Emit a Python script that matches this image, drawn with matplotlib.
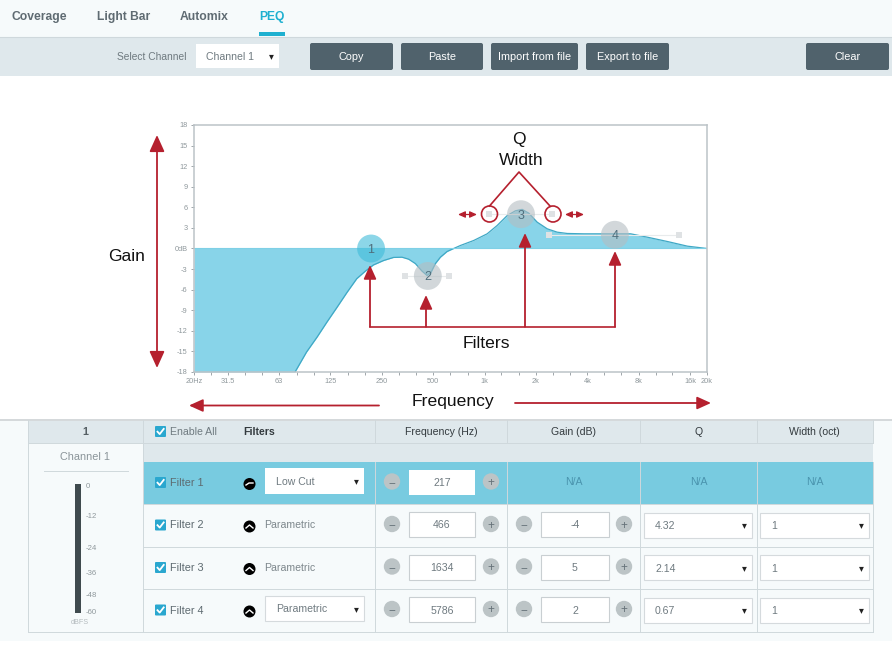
import matplotlib
matplotlib.use('Agg')
from matplotlib import pyplot as plt
from matplotlib.patches import Rectangle, FancyBboxPatch, Circle

plt.rcParams['font.family'] = ['Liberation Sans', 'DejaVu Sans']

# response curve
curve_freq = [20, 78, 91, 105, 120, 137, 157, 179, 201, 224, 257, 294, 329, 360, 394, 431,
              461, 487, 516, 552, 604, 660, 723, 865, 1036, 1185, 1357, 1517, 1660, 1815,
              2032, 2326, 2661, 3047, 3811, 5712, 7154, 8960, 11730, 15370, 20000]
curve_gain = [-18, -18, -15.1, -12.9, -10.7, -8.6, -6.4, -4.4, -3.3, -2.4, -1.75, -1.3, -1.27,
              -1.56, -2.2, -3.3, -3.94, -3.45, -2.2, -1.27, -0.44, 0, 0.44, 1.17, 2.14, 3.35,
              4.8, 5.5, 5.7, 5.15, 3.84, 2.87, 2.38, 2.19, 2.14, 2.14, 2.14, 1.65, 1.02, 0.34, 0]

node_names = ['1', '2', '3', '4']
node_freq = [217, 466, 1634, 5786]
node_gain = [0, -4, 5, 2]
handle_freq = [[344, 623], [1068, 2466], [2368, 13660]]
handle_gain = [-4, 5, 2]

y_ticks = [-18, -15, -12, -9, -6, -3, 0, 3, 6, 9, 12, 15, 18]
y_labels = ['-18', '-15', '-12', '-9', '-6', '-3', '0dB', '3', '6', '9', '12', '15', '18']
x_ticks = [20, 31.5, 63, 125, 250, 500, 1000, 2000, 4000, 8000, 16000, 20000]
x_labels = ['20Hz', '31.5', '63', '125', '250', '500', '1k', '2k', '4k', '8k', '16k', '20k']
x_minor = [25, 40, 50, 80, 100, 160, 200, 315, 400, 630, 800, 1250, 1600, 2500, 3150,
           5000, 6300, 10000, 12500]

tabs = ['Coverage', 'Light Bar', 'Automix', 'PEQ']
buttons = ['Copy', 'Paste', 'Import from file', 'Export to file', 'Clear']
columns = ['Frequency (Hz)', 'Gain (dB)', 'Q', 'Width (oct)']
filter_names = ['Filter 1', 'Filter 2', 'Filter 3', 'Filter 4']
filter_types = ['Low Cut', 'Parametric', 'Parametric', 'Parametric']
freq_values = ['217', '466', '1634', '5786']
gain_values = ['N/A', '-4', '5', '2']
q_values = ['N/A', '4.32', '2.14', '0.67']
width_values = ['N/A', '1', '1', '1']
meter_labels = ['0', '-12', '-24', '-36', '-48', '-60']

W, H = 892, 649
fig = plt.figure(figsize=(W / 100, H / 100), dpi=100, facecolor='white')

BAR = '#dfe8ec'
PAGE = '#f6fafb'
LINE = '#cfd8dc'
TXT = '#6f7a80'
DARK = '#50626c'
BLUE = '#78cbe0'
RED = '#b5202e'


def pixel_axes(z):
    a = fig.add_axes([0, 0, 1, 1], zorder=z)
    a.set_xlim(0, W)
    a.set_ylim(H, 0)
    a.axis('off')
    a.patch.set_alpha(0)
    return a


ax = pixel_axes(0)


def box(x0, y0, x1, y1, color, edge='none', z=1, lw=0.8):
    ax.add_patch(Rectangle((x0, y0), x1 - x0, y1 - y0, fc=color, ec=edge, lw=lw, zorder=z))


def rbox(x0, y0, x1, y1, color, r=2):
    ax.add_patch(FancyBboxPatch((x0 + r, y0 + r), x1 - x0 - 2 * r, y1 - y0 - 2 * r,
                                boxstyle='round,pad=%d' % r, fc=color, ec='none', zorder=3))


def label(x, y, s, size=8, color=TXT, ha='center', weight='normal', a=ax):
    a.text(x, y, s, fontsize=size, color=color, ha=ha, va='center_baseline', weight=weight, zorder=6)


# tab bar + toolbar
box(0, 0, W, 37, PAGE)
box(0, 37, W, 76, BAR)
ax.plot([0, W], [37, 37], color=LINE, lw=0.8, zorder=2)
for x, name in zip([39, 123.5, 204, 271.5], tabs):
    label(x, 15.5, name, size=8.7, weight='bold', color='#1fb0d0' if name == 'PEQ' else '#5f6b72')
box(259, 32, 284.5, 36, '#1fb0d0', z=3)

label(152, 56, 'Select Channel', size=7.4)
box(196, 44, 279, 68, 'white', z=2)
label(206, 56, 'Channel 1', size=7.6, ha='left')
label(271, 55.5, '▾', size=7, color='#222222')

btn_x = [(310, 393), (401, 483), (491, 578), (586, 669), (806, 889)]
for (x0, x1), name in zip(btn_x, buttons):
    rbox(x0, 43, x1, 70, DARK)
    label((x0 + x1) / 2, 56, name, size=7.8, color='white')

# table
box(0, 419, W, 641, PAGE)
ax.plot([0, W], [419.5, 419.5], color='#d5d9db', lw=1.4, zorder=2)
box(28, 420, 873, 443, BAR)
box(143, 443, 873, 462, BAR)
box(143, 462, 873, 504, BLUE)
col_x = [143, 375, 507, 640, 757, 872.5]
row_y = [462, 504, 547, 589, 632]
for x in col_x:
    ax.plot([x, x], [420, 443], color=LINE, lw=0.7, zorder=2)
    ax.plot([x, x], [462, 632], color=LINE, lw=0.7, zorder=2)
ax.plot([143, 143], [443, 462], color=LINE, lw=0.7, zorder=2)
ax.plot([28, 28], [420, 632], color=LINE, lw=0.7, zorder=2)
ax.plot([28, 873], [443, 443], color=LINE, lw=0.7, zorder=2)
for y in row_y[1:]:
    ax.plot([143, 873], [y, y], color=LINE, lw=0.7, zorder=2)
ax.plot([28, 143], [632, 632], color=LINE, lw=0.7, zorder=2)

label(85.5, 431, '1', size=7.8, weight='bold', color='#555f64')
label(170, 431, 'Enable All', size=7.6, ha='left')
label(259, 431, 'Filters', size=7.6, color='#333a3e', weight='bold')
for i, name in enumerate(columns):
    label((col_x[i + 1] + col_x[i + 2]) / 2, 431, name, size=7.6, color='#333a3e')

# channel strip
label(85.5, 456, 'Channel 1', size=7.8, color='#8a9499')
ax.plot([44, 128], [470.5, 470.5], color=LINE, lw=0.7, zorder=2)
box(74.5, 484, 81, 613, '#3f4a4e')
for y, s in zip([485, 516, 547, 572.5, 594.5, 612], meter_labels):
    label(86, y, s, size=5.6, ha='left', color='#8f989c')
label(80, 621.5, 'dBFS', size=5.2, color='#b5bcbf')


def checkbox(x, y):
    rbox(x - 5.5, y - 5.5, x + 5.5, y + 5.5, '#2aa7cf', r=1)
    ax.plot([x - 3, x - 0.8, x + 3.2], [y + 0.2, y + 2.6, y - 2.6], color='white', lw=1.3, zorder=5)


def stepper(cx, cy, s):
    ax.add_patch(Circle((cx, cy), 8.2, fc='#bcc4c6', ec='none', zorder=3))
    label(cx, cy, s, size=8.5, color='#67737a')


def input_box(x0, x1, cy, s, edge='#c9cfd2'):
    box(x0, cy - 12.5, x1, cy + 12.5, 'white', edge=edge, z=3)
    label((x0 + x1) / 2, cy, s, size=7.6)


def select_box(x0, x1, cy, s):
    box(x0, cy - 12.5, x1, cy + 12.5, 'white', edge='#d5dadd', z=3)
    label(x0 + 11, cy, s, size=7.6, ha='left')
    label(x1 - 8, cy - 0.5, '▾', size=7, color='#222222')


checkbox(160.5, 431.5)
for i in range(4):
    cy = (row_y[i] + row_y[i + 1]) / 2 + 1
    checkbox(160.5, cy - 1.5)
    label(170, cy - 2, filter_names[i], size=7.8, ha='left', color='#5d6a70')
    # filter shape icon
    ax.add_patch(Circle((249.5, cy), 6, fc='black', ec='none', zorder=3))
    if i == 0:
        ax.plot([246, 249, 253], [cy + 1, cy - 1, cy - 1], color='white', lw=1, zorder=5)
    else:
        ax.plot([246, 249.5, 253], [cy + 1.5, cy - 1.5, cy + 1.5], color='white', lw=1, zorder=5)
    # type column
    if i == 0 or i == 3:
        box(265, cy - 16, 364, cy + 9.5, 'white', edge='none' if i == 0 else '#d5dadd', z=3)
        label(276, cy - 3, filter_types[i], size=7.6, ha='left')
        label(356, cy - 3.5, '▾', size=7, color='#222222')
    else:
        label(264.5, cy - 2, filter_types[i], size=7.6, ha='left', color='#7d878c')
    # frequency
    stepper(392, cy - 2.5, '−')
    stepper(491, cy - 2.5, '+')
    input_box(409, 475, cy - 2, freq_values[i], edge='none' if i == 0 else '#c9cfd2')
    # gain, Q, width
    if i == 0:
        for j, vals in enumerate([gain_values, q_values, width_values]):
            label((col_x[j + 2] + col_x[j + 3]) / 2, cy - 3, vals[i], size=7.6, color='#4a94ae')
    else:
        stepper(524, cy - 2.5, '−')
        stepper(624, cy - 2.5, '+')
        input_box(541, 609, cy - 2, gain_values[i])
        select_box(644, 752, cy - 1.5, q_values[i])
        select_box(760, 869, cy - 1.5, width_values[i])

# EQ plot
eq = fig.add_axes([194 / W, 1 - 372 / H, 513 / W, 247 / H], zorder=1)
eq.set_xscale('log')
eq.set_xlim(20, 20000)
eq.set_ylim(-18, 18)
eq.fill_between(curve_freq, curve_gain, 0, color='#88d4e9', lw=0, zorder=1)
eq.plot(curve_freq[1:], curve_gain[1:], color='#3fa8c5', lw=0.9, zorder=2)
eq.plot([20, 20000], [0, 0], color='#7fd0e6', lw=0.8, zorder=2)
for hf, g in zip(handle_freq, handle_gain):
    eq.plot(hf, [g, g], color='#e8ebec', lw=0.8, zorder=2)
    eq.scatter(hf, [g, g], s=18, marker='s', color='#dfe2e4', linewidths=0, zorder=3)
node_colors = ['#3fbcd9', '#b4bdc2', '#b4bdc2', '#b4bdc2']
eq.scatter(node_freq, node_gain, s=403, c=node_colors, alpha=0.6, linewidths=0, zorder=4)
for f, g, n in zip(node_freq, node_gain, node_names):
    eq.text(f, g, n, fontsize=9, color='#4f6f7d', ha='center', va='center_baseline', zorder=5)

eq.set_xticks(x_ticks)
eq.set_xticklabels(x_labels)
eq.set_xticks(x_minor, minor=True)
eq.set_xticklabels([], minor=True)
eq.set_yticks(y_ticks)
eq.set_yticklabels(y_labels)
eq.tick_params(axis='both', which='both', length=2, width=0.6, color='#8f989c', labelsize=5.3,
               labelcolor='#8f989c', pad=2.5)
for s in eq.spines.values():
    s.set_color('#bcc3c7')
    s.set_linewidth(1.1)

# red call-outs on top
top = pixel_axes(2)


def arrow(x0, y0, x1, y1, style='-|>', lw=1.3, ms=13):
    top.annotate('', xy=(x1, y1), xytext=(x0, y0),
                 arrowprops=dict(arrowstyle=style + ',head_length=0.42,head_width=0.19', color=RED,
                                 lw=lw, mutation_scale=ms, shrinkA=0, shrinkB=0))


arrow(157, 135, 157, 368, style='<|-|>', ms=24)
arrow(379, 405.5, 189, 405.5, ms=20)
arrow(515, 403, 711, 403, ms=20)
top.plot([370, 615], [326.7, 326.7], color=RED, lw=1.2)
for x, y in zip([370, 426, 525, 615], [265, 295, 233, 251]):
    arrow(x, 326.7, x, y, ms=20)
top.plot([489.5, 519, 550], [206, 172, 206], color=RED, lw=1.2)
for x in [489.5, 553]:
    top.add_patch(Circle((x, 214), 8, fc='none', ec=RED, lw=1.2))
arrow(458, 214.5, 477, 214.5, style='<|-|>', lw=0.9, ms=10)
arrow(565, 214.5, 584, 214.5, style='<|-|>', lw=0.9, ms=10)

label(127, 255, 'Gain', size=12.6, color='#111111', a=top)
label(453, 400, 'Frequency', size=12.6, color='#111111', a=top)
label(486, 342, 'Filters', size=12.6, color='#111111', a=top)
label(519, 138, 'Q', size=12.6, color='#111111', a=top)
label(521.5, 159, 'Width', size=12.6, color='#111111', a=top)

fig.savefig('out.png', dpi=100)
